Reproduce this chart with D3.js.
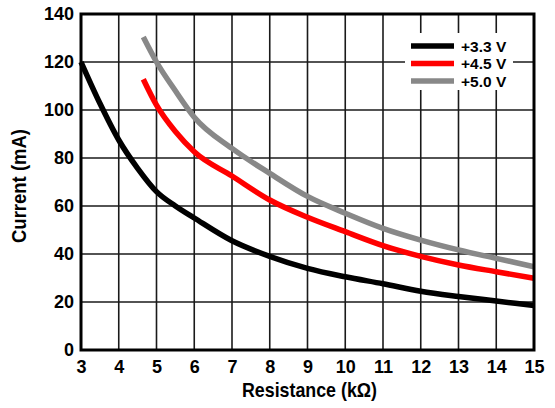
<!DOCTYPE html>
<html><head><meta charset="utf-8">
<script src="https://cdn.jsdelivr.net/npm/d3@7"></script>
<style>
html,body{margin:0;padding:0;background:#fff;}
text{font-family:"Liberation Sans",Arial,Helvetica,sans-serif;font-weight:bold;fill:#000;}
</style></head><body>
<svg id="c" width="555" height="408"></svg>
<script>
const xTicks = [3,4,5,6,7,8,9,10,11,12,13,14,15];
const yTicks = [0,20,40,60,80,100,120,140];
const seriesNames = ["+3.3 V","+4.5 V","+5.0 V"];
const seriesColors = ["#000000","#ff0000","#888888"];
const r33 = [3,3.5,4,4.5,5,5.5,6,7,8,9,10,11,12,13,14,15];
const i33 = [120,102.8,87.5,75.7,66,60,55,45.5,39,34,30.5,27.6,24.5,22.3,20.4,18.5];
const r45 = [4.65,5,5.5,6,7,8,9,10,11,12,13,14,15];
const i45 = [112.8,102,91,82.6,72.5,62.5,55.3,49.3,43.5,39,35.4,32.6,29.9];
const r50 = [4.65,5,5.5,6,7,8,9,10,11,12,13,14,15];
const i50 = [130.4,120,108,97,84,73.6,64,57,50.7,45.8,41.7,38.2,34.7];

const svg = d3.select("#c");
const L=81,R=534,T=14,B=350;
const x = d3.scaleLinear().domain([3,15]).range([L,R]);
const y = d3.scaleLinear().domain([0,140]).range([B,T]);

// grid
const g = svg.append("g");
g.selectAll("line.v").data(xTicks).enter().append("line")
 .attr("x1",d=>x(d)).attr("x2",d=>x(d)).attr("y1",T).attr("y2",B)
 .attr("stroke","#1a1a1a").attr("stroke-width",1.6);
g.selectAll("line.h").data(yTicks).enter().append("line")
 .attr("x1",L).attr("x2",R).attr("y1",d=>y(d)).attr("y2",d=>y(d))
 .attr("stroke","#1a1a1a").attr("stroke-width",1.6);

// legend background
svg.append("rect").attr("x",405).attr("y",33).attr("width",108).attr("height",57).attr("fill","#fff");

// curves
const data = [[r33,i33],[r45,i45],[r50,i50]];
const line = d3.line().x(d=>x(d[0])).y(d=>y(d[1])).curve(d3.curveMonotoneX);
data.forEach((s,k)=>{
  const pts = s[0].map((r,i)=>[r,s[1][i]]);
  svg.append("path").attr("d",line(pts)).attr("fill","none")
   .attr("stroke",seriesColors[k]).attr("stroke-width",5.5);
});

// frame
svg.append("rect").attr("x",L).attr("y",T).attr("width",R-L).attr("height",B-T)
 .attr("fill","none").attr("stroke","#000").attr("stroke-width",3);

// axes labels via d3 axes
const xa = d3.axisBottom(x).tickValues(xTicks).tickSize(0).tickPadding(10).tickFormat(d3.format("d"));
const xg = svg.append("g").attr("transform",`translate(0,${B})`).call(xa);
xg.select(".domain").remove();
xg.selectAll("text").style("font-size","18px").style("font-family","'Liberation Sans',Arial,sans-serif").attr("fill","#000");
const ya = d3.axisLeft(y).tickValues(yTicks).tickSize(0).tickPadding(7).tickFormat(d3.format("d"));
const yg = svg.append("g").attr("transform",`translate(${L},0)`).call(ya);
yg.select(".domain").remove();
yg.selectAll("text").style("font-size","18px").style("font-family","'Liberation Sans',Arial,sans-serif").attr("fill","#000");

svg.append("text").attr("x",(L+R)/2 + 2).attr("y",397).attr("text-anchor","middle")
 .attr("textLength",135).attr("lengthAdjust","spacingAndGlyphs")
 .style("font-size","21px").text("Resistance (kΩ)");
svg.append("text").attr("transform",`translate(26,186) rotate(-90)`).attr("text-anchor","middle")
 .attr("textLength",114).attr("lengthAdjust","spacingAndGlyphs")
 .style("font-size","20px").text("Current (mA)");

// legend
seriesNames.forEach((n,k)=>{
  const yy = 46 + k*17.5;
  svg.append("line").attr("x1",411).attr("x2",454).attr("y1",yy).attr("y2",yy)
   .attr("stroke",seriesColors[k]).attr("stroke-width",5.5);
  svg.append("text").attr("x",461).attr("y",yy+5.5).style("font-size","15.5px").text(n);
});
</script>
</body></html>
